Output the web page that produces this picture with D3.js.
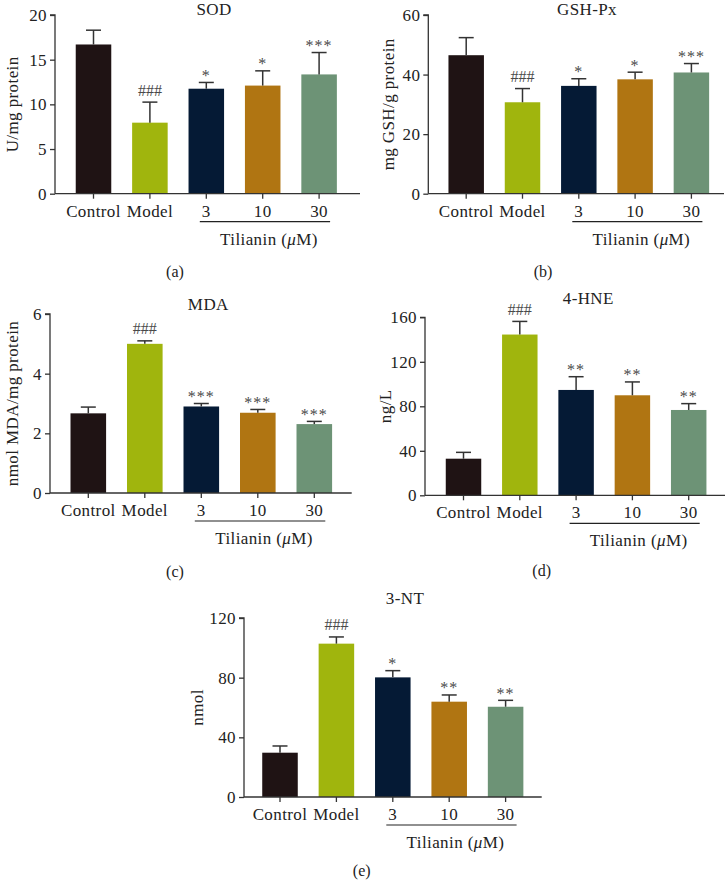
<!DOCTYPE html>
<html>
<head>
<meta charset="utf-8">
<script src="https://cdn.jsdelivr.net/npm/d3@7"></script>
<style>
  html, body { margin: 0; padding: 0; background: #fff; }
  svg { display: block; }
  text { font-family: "Liberation Serif", "DejaVu Serif", serif; fill: #222; }
</style>
</head>
<body>
<svg id="chart" width="727" height="881"></svg>
<script>
// ---------- data ----------
const categories = ["Control", "Model", "3", "10", "30"];
const barColors = ["#1f1314", "#a0b50d", "#051a35", "#b07512", "#6d9376"];

const sodMean = [16.7, 7.95, 11.75, 12.1, 13.35];
const sodErr  = [1.6, 2.3, 0.7, 1.65, 2.45];
const sodSig  = ["", "###", "*", "*", "***"];
const sodTicks = [0, 5, 10, 15, 20];

const gshMean = [46.5, 30.7, 36.2, 38.4, 40.7];
const gshErr  = [5.9, 4.6, 2.4, 2.4, 3.0];
const gshSig  = ["", "###", "*", "*", "***"];
const gshTicks = [0, 20, 40, 60];

const mdaMean = [2.67, 5.0, 2.9, 2.69, 2.31];
const mdaErr  = [0.21, 0.1, 0.1, 0.11, 0.09];
const mdaSig  = ["", "###", "***", "***", "***"];
const mdaTicks = [0, 2, 4, 6];

const hneMean = [32.9, 144.5, 94.7, 89.9, 76.7];
const hneErr  = [5.7, 11.8, 11.9, 12.0, 5.7];
const hneSig  = ["", "###", "**", "**", "**"];
const hneTicks = [0, 40, 80, 120, 160];

const ntMean = [29.7, 102.8, 80.2, 63.9, 60.5];
const ntErr  = [4.5, 4.5, 4.5, 4.5, 4.3];
const ntSig  = ["", "###", "*", "**", "**"];
const ntTicks = [0, 40, 80, 120];

const titles = ["SOD", "GSH-Px", "MDA", "4-HNE", "3-NT"];
const yLabels = ["U/mg protein", "mg GSH/g protein", "nmol MDA/mg protein", "ng/L", "nmol"];
const panelLetters = ["(a)", "(b)", "(c)", "(d)", "(e)"];

// ---------- layout ----------
const panels = [
  { mean: sodMean, err: sodErr, sig: sodSig, ticks: sodTicks, max: 20,
    axisX: 55, axisEnd: 360, top: 15, bottom: 193.7, c0: 93.5, step: 56.4,
    titleX: 214, titleY: 15, ylabX: 12, letterX: 175, letterY: 271 },
  { mean: gshMean, err: gshErr, sig: gshSig, ticks: gshTicks, max: 60,
    axisX: 428.3, axisEnd: 724, top: 15, bottom: 193.7, c0: 466.2, step: 56.3,
    titleX: 587, titleY: 15, ylabX: 388, letterX: 543, letterY: 271 },
  { mean: mdaMean, err: mdaErr, sig: mdaSig, ticks: mdaTicks, max: 6,
    axisX: 50, axisEnd: 351.7, top: 314, bottom: 493, c0: 88.3, step: 56.5,
    titleX: 208.3, titleY: 310, ylabX: 12, letterX: 175, letterY: 571 },
  { mean: hneMean, err: hneErr, sig: hneSig, ticks: hneTicks, max: 160,
    axisX: 425, axisEnd: 725, top: 317.3, bottom: 495.3, c0: 463.5, step: 56.3,
    titleX: 588.3, titleY: 303.5, ylabX: 385, letterX: 541.7, letterY: 570 },
  { mean: ntMean, err: ntErr, sig: ntSig, ticks: ntTicks, max: 120,
    axisX: 244, axisEnd: 541.7, top: 618, bottom: 797, c0: 280, step: 56.4,
    titleX: 405, titleY: 604, ylabX: 197, letterX: 361.7, letterY: 870 }
];

const svg = d3.select("#chart");
const axisColor = "#333";
const FS = 17;
const LS = "0.4px";

panels.forEach((p, i) => {
  const g = svg.append("g");
  const x = d3.scaleBand()
    .domain(categories)
    .range([p.c0 - p.step / 2, p.c0 + p.step * 4.5])
    .paddingInner(0.37)
    .paddingOuter(0.185);
  const y = d3.scaleLinear().domain([0, p.max]).range([p.bottom, p.top]);

  const data = categories.map((c, k) => ({ c, m: p.mean[k], e: p.err[k], s: p.sig[k], col: barColors[k] }));

  // bars
  g.selectAll("rect.bar").data(data).enter().append("rect")
    .attr("x", d => x(d.c))
    .attr("y", d => y(d.m))
    .attr("width", x.bandwidth())
    .attr("height", d => y(0) - y(d.m))
    .attr("fill", d => d.col);

  // error bars
  const cx = d => x(d.c) + x.bandwidth() / 2;
  g.selectAll("line.ev").data(data).enter().append("line")
    .attr("x1", cx).attr("x2", cx)
    .attr("y1", d => y(d.m)).attr("y2", d => y(d.m + d.e))
    .attr("stroke", "#333").attr("stroke-width", 1.5);
  g.selectAll("line.ec").data(data).enter().append("line")
    .attr("x1", d => cx(d) - 7.5).attr("x2", d => cx(d) + 7.5)
    .attr("y1", d => y(d.m + d.e)).attr("y2", d => y(d.m + d.e))
    .attr("stroke", "#333").attr("stroke-width", 1.5);

  // significance marks
  g.selectAll("text.sig").data(data.filter(d => d.s)).enter().append("text")
    .attr("x", cx)
    .attr("y", d => y(d.m + d.e) - (d.s[0] === "#" ? 6.5 : 1.5))
    .attr("text-anchor", "middle")
    .attr("font-size", 16)
    .style("letter-spacing", d => d.s[0] === "#" ? "0px" : "1px")
    .style("fill", "#4a4a4a")
    .text(d => d.s);

  // y axis
  const yAxis = d3.axisLeft(y).tickValues(p.ticks).tickSize(5).tickPadding(3).tickFormat(d3.format("d"));
  const ya = g.append("g").attr("transform", `translate(${p.axisX},0)`).call(yAxis);
  ya.select(".domain").attr("stroke", axisColor).attr("stroke-width", 1.3)
    .attr("d", `M-5,${p.top}H0V${p.bottom}`);
  ya.selectAll(".tick line").attr("stroke", axisColor).attr("stroke-width", 1.3);
  ya.selectAll(".tick text").attr("font-size", FS).style("letter-spacing", LS)
    .style("font-family", '"Liberation Serif", serif').style("fill", "#222");

  // x axis
  const xAxis = d3.axisBottom(x).tickSize(5).tickPadding(4);
  const xa = g.append("g").attr("transform", `translate(0,${p.bottom})`).call(xAxis);
  xa.select(".domain").attr("stroke", axisColor).attr("stroke-width", 1.3)
    .attr("d", `M${p.axisX},0H${p.axisEnd}`);
  xa.selectAll(".tick line").attr("stroke", axisColor).attr("stroke-width", 1.3);
  xa.selectAll(".tick text").attr("font-size", FS).attr("dy", null).attr("y", 23)
    .style("letter-spacing", LS)
    .style("font-family", '"Liberation Serif", serif').style("fill", "#222");

  // group underline and label
  const c2 = x("3") + x.bandwidth() / 2;
  const c4 = x("30") + x.bandwidth() / 2;
  const uL = c2 - 6.5, uR = c4 + 11;
  g.append("line").attr("x1", uL).attr("x2", uR)
    .attr("y1", p.bottom + 28).attr("y2", p.bottom + 28)
    .attr("stroke", "#222").attr("stroke-width", 1.2);
  const gl = g.append("text").attr("x", (uL + uR) / 2 + 4).attr("y", p.bottom + 51)
    .attr("text-anchor", "middle").attr("font-size", FS).style("letter-spacing", LS);
  gl.append("tspan").text("Tilianin (");
  gl.append("tspan").attr("font-style", "italic").text("\u03bc");
  gl.append("tspan").text("M)");

  // title
  g.append("text").attr("x", p.titleX).attr("y", p.titleY)
    .attr("text-anchor", "middle").attr("font-size", FS).style("letter-spacing", LS)
    .text(titles[i]);

  // y label
  g.append("text")
    .attr("transform", `translate(${p.ylabX},${(p.top + p.bottom) / 2}) rotate(-90)`)
    .attr("text-anchor", "middle").attr("dy", "0.35em").attr("font-size", FS)
    .style("letter-spacing", LS)
    .text(yLabels[i]);

  // panel letter
  g.append("text").attr("x", p.letterX).attr("y", p.letterY)
    .attr("text-anchor", "middle").attr("dy", "0.35em").attr("font-size", 16)
    .text(panelLetters[i]);
});
</script>
</body>
</html>
